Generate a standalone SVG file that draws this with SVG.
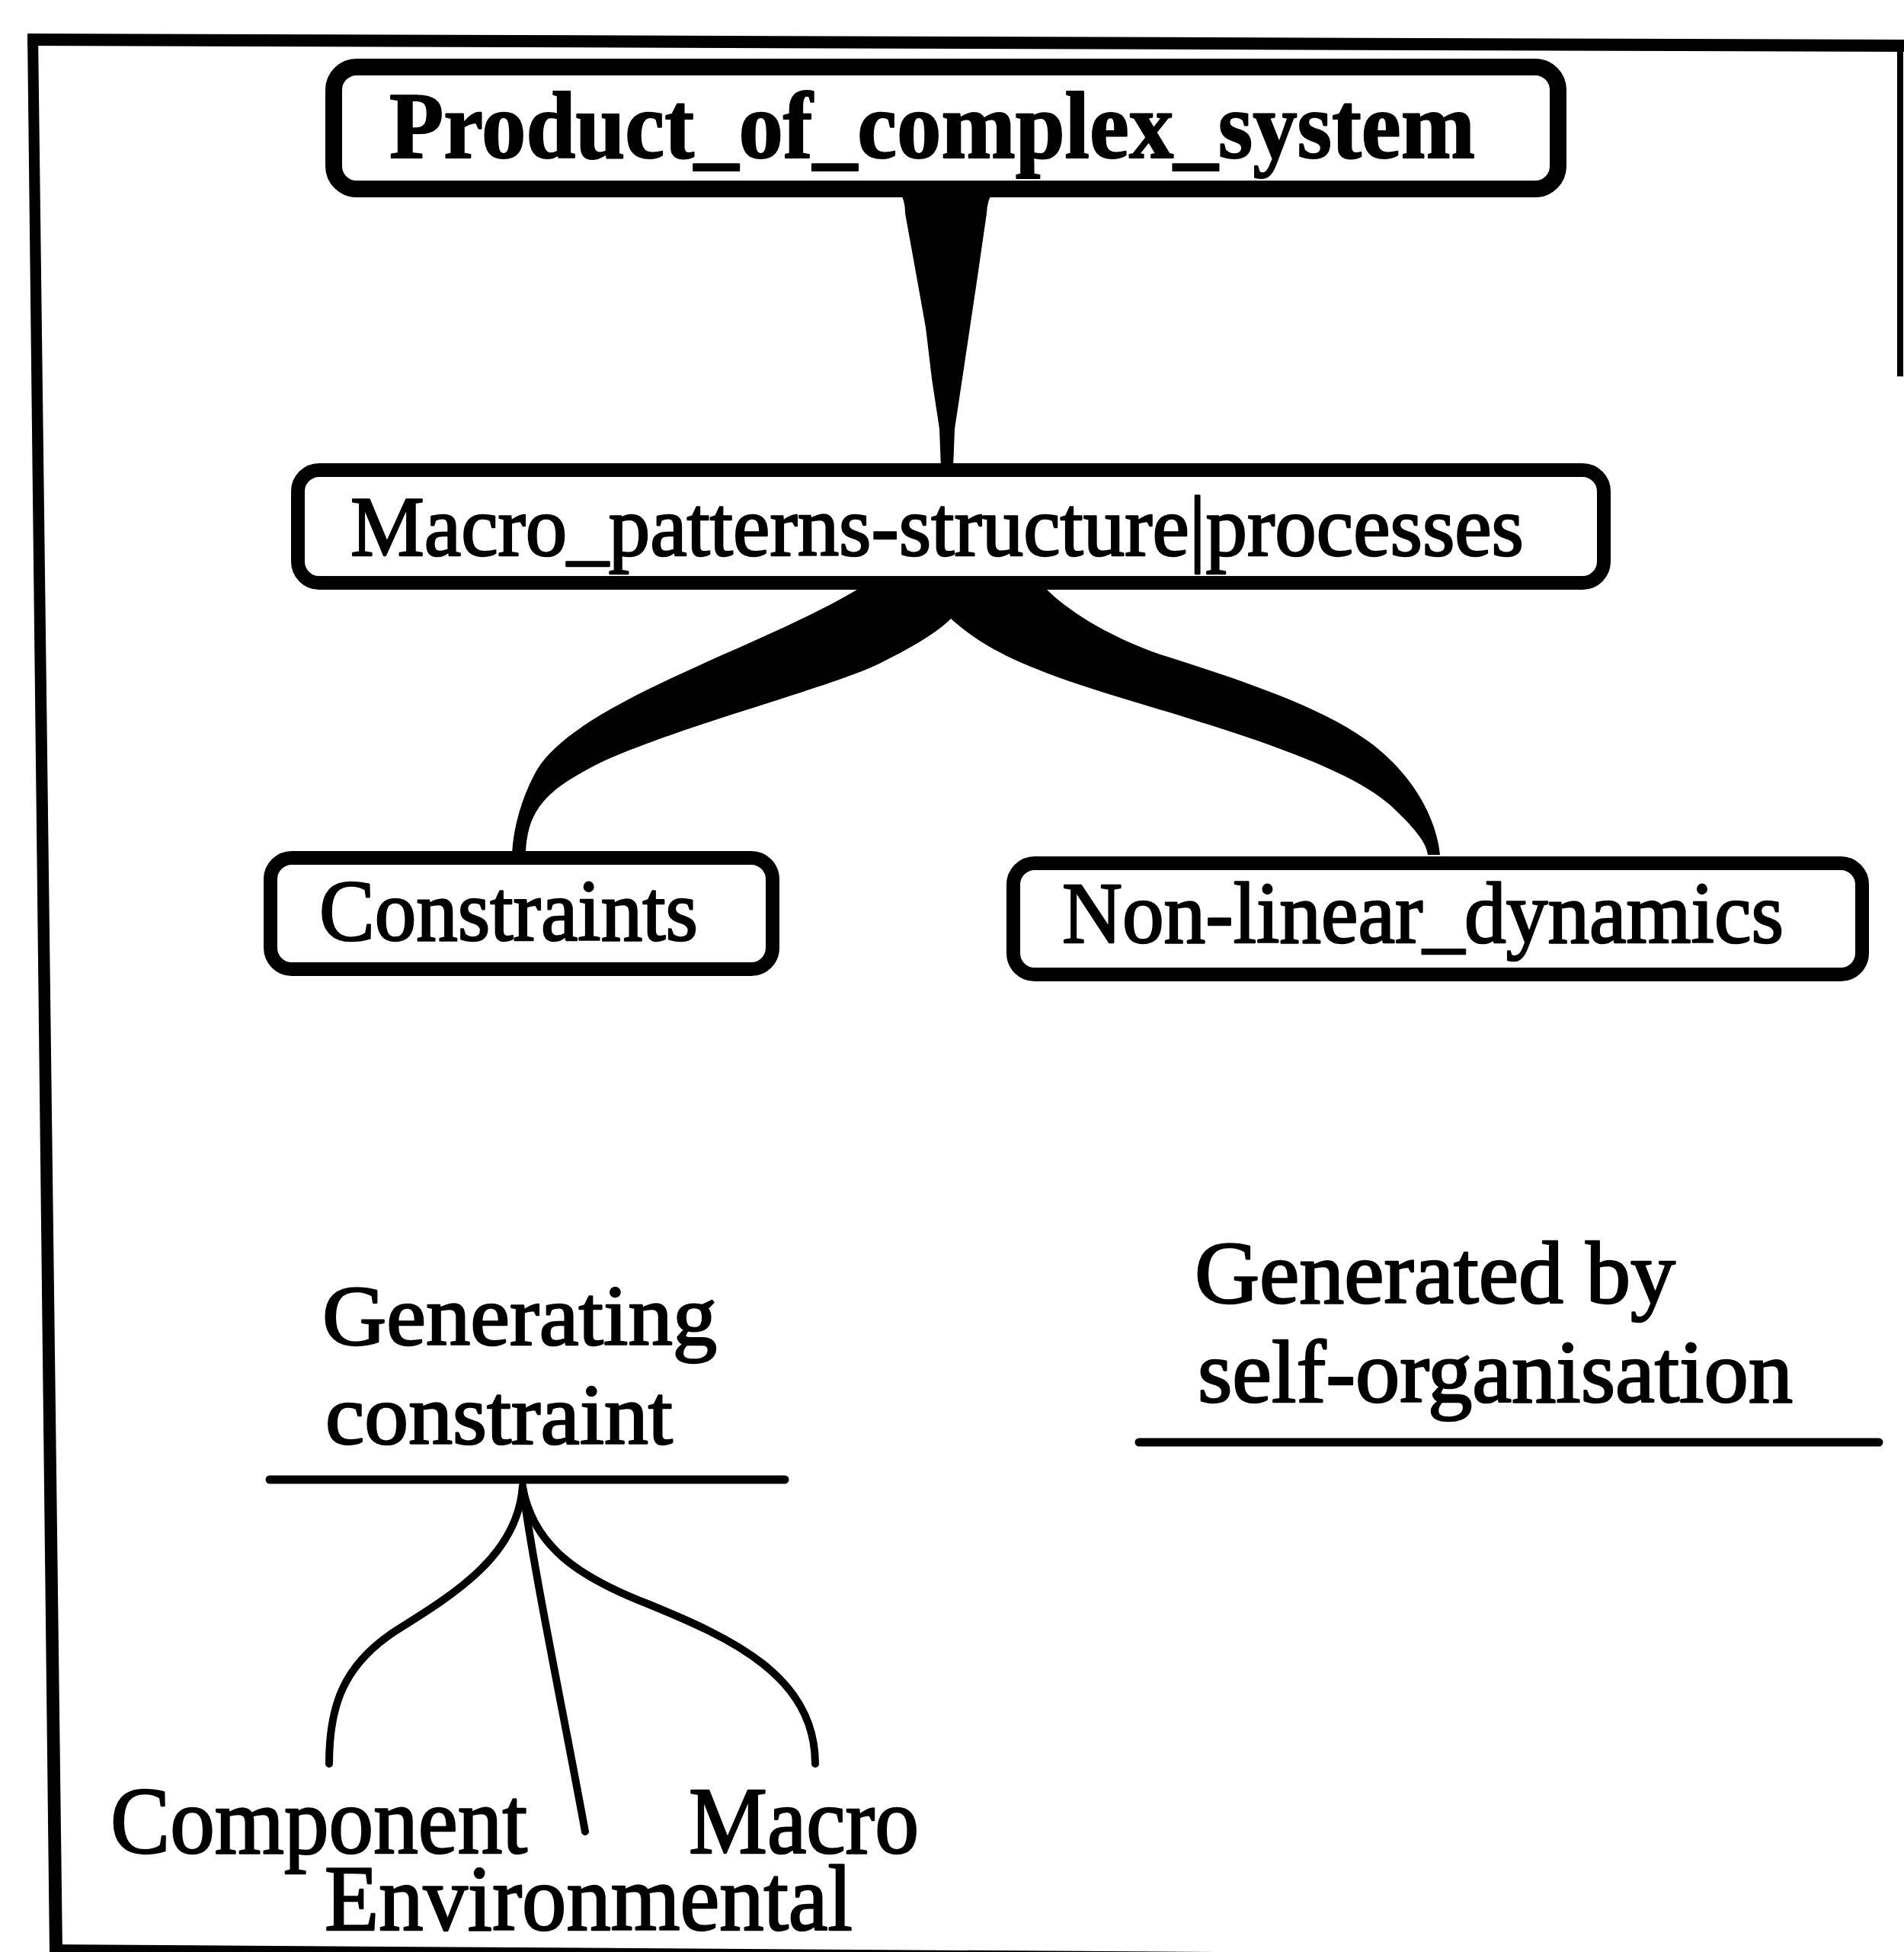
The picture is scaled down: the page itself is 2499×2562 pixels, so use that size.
<svg xmlns="http://www.w3.org/2000/svg" width="2499" height="2562" viewBox="0 0 2499 2562">
  <style>
    .box { fill: #fff; stroke: #000; }
    .lbl { font-family: "Liberation Serif", "Times New Roman", serif; fill: #000; stroke: #000; stroke-width: 2.5; stroke-linejoin: round; }
    .bold { font-weight: bold; stroke-width: 2; }
    .thin { fill: none; stroke: #000; stroke-width: 10; stroke-linecap: round; }
    .rule { stroke: #000; stroke-width: 11; stroke-linecap: round; }
  </style>
  <rect width="2499" height="2562" fill="#fff"/>

  <!-- outer frame -->
  <g id="frame" fill="#000">
    <polygon points="36,44 2499,52 2499,68 36,60"/>
    <polygon points="36,44 50,44 82,2562 65,2562"/>
    <line x1="2494" y1="52" x2="2494" y2="494" stroke="#000" stroke-width="8"/>
    <line x1="66" y1="2557" x2="1750" y2="2568" stroke="#000" stroke-width="10"/>
  </g>

  <!-- connectors -->
  <g id="connectors" fill="#000">
    <!-- tapered stem: product -> macro patterns -->
    <path d="M1176,250 Q1188,256 1188,280 L1203,363 L1215,430 L1223,497 L1233,563 L1235,615 L1251,615 L1253,563 L1263,497 L1273,430 L1283,363 L1295,280 Q1296,256 1308,250 Z"/>
    <!-- tapered fork: macro patterns -> constraints / non-linear dynamics -->
    <path d="M1128,766 L1128,772 C1000,850 760,920 705,1010 C685,1045 674,1085 672,1120 L690,1120 C692,1060 720,1035 790,1000 C900,950 1100,900 1160,868 C1200,848 1230,830 1248,812 C1290,850 1340,875 1452,910 C1600,955 1760,1000 1825,1057 C1855,1085 1872,1105 1874,1122 L1890,1122 C1886,1080 1860,1020 1796,973 C1730,925 1620,890 1520,858 C1450,833 1400,800 1372,772 L1372,766 Z"/>
    <!-- generating constraint branches -->
    <path class="thin" d="M686,1950 C680,2040 600,2090 520,2140 C450,2185 432,2240 432,2315"/>
    <path class="thin" d="M686,1952 C700,2060 740,2250 768,2404"/>
    <path class="thin" d="M686,1952 C700,2030 760,2070 850,2105 C960,2150 1070,2200 1070,2315"/>
  </g>

  <g id="node-product">
    <rect class="box" x="438" y="88" width="1607" height="160" rx="30" stroke-width="22"/>
    <text class="lbl bold" x="511" y="207" font-size="124" textLength="1425" lengthAdjust="spacingAndGlyphs">Product_of_complex_system</text>
  </g>

  <g id="node-macro-patterns">
    <rect class="box" x="391" y="617" width="1714" height="148" rx="28" stroke-width="18"/>
    <text class="lbl" x="460" y="729" font-size="112" textLength="1540" lengthAdjust="spacingAndGlyphs">Macro_patterns-structure|processes</text>
  </g>

  <g id="node-constraints">
    <rect class="box" x="355" y="1126" width="659" height="146" rx="28" stroke-width="18"/>
    <text class="lbl" x="419" y="1234" font-size="114" textLength="497" lengthAdjust="spacingAndGlyphs">Constraints</text>
  </g>

  <g id="node-nonlinear">
    <rect class="box" x="1330" y="1133" width="1114" height="146" rx="28" stroke-width="18"/>
    <text class="lbl" x="1394" y="1237" font-size="114" textLength="947" lengthAdjust="spacingAndGlyphs">Non-linear_dynamics</text>
  </g>

  <g id="node-generating-constraint">
    <text class="lbl" x="423" y="1765" font-size="112" textLength="518" lengthAdjust="spacingAndGlyphs">Generating</text>
    <text class="lbl" x="427" y="1895" font-size="112" textLength="456" lengthAdjust="spacingAndGlyphs">constraint</text>
    <line class="rule" x1="354" y1="1942" x2="1030" y2="1942"/>
  </g>

  <g id="node-component">
    <text class="lbl" x="145" y="2432" font-size="124" textLength="547" lengthAdjust="spacingAndGlyphs">Component</text>
  </g>
  <g id="node-environmental">
    <text class="lbl" x="426" y="2533" font-size="122" textLength="693" lengthAdjust="spacingAndGlyphs">Environmental</text>
  </g>
  <g id="node-macro">
    <text class="lbl" x="904" y="2432" font-size="124" textLength="302" lengthAdjust="spacingAndGlyphs">Macro</text>
  </g>

  <g id="node-self-organisation">
    <text class="lbl" x="1568" y="1710" font-size="116" textLength="631" lengthAdjust="spacingAndGlyphs">Generated by</text>
    <text class="lbl" x="1572" y="1840" font-size="116" textLength="781" lengthAdjust="spacingAndGlyphs">self-organisation</text>
    <line class="rule" x1="1495" y1="1893" x2="2466" y2="1893"/>
  </g>
</svg>
